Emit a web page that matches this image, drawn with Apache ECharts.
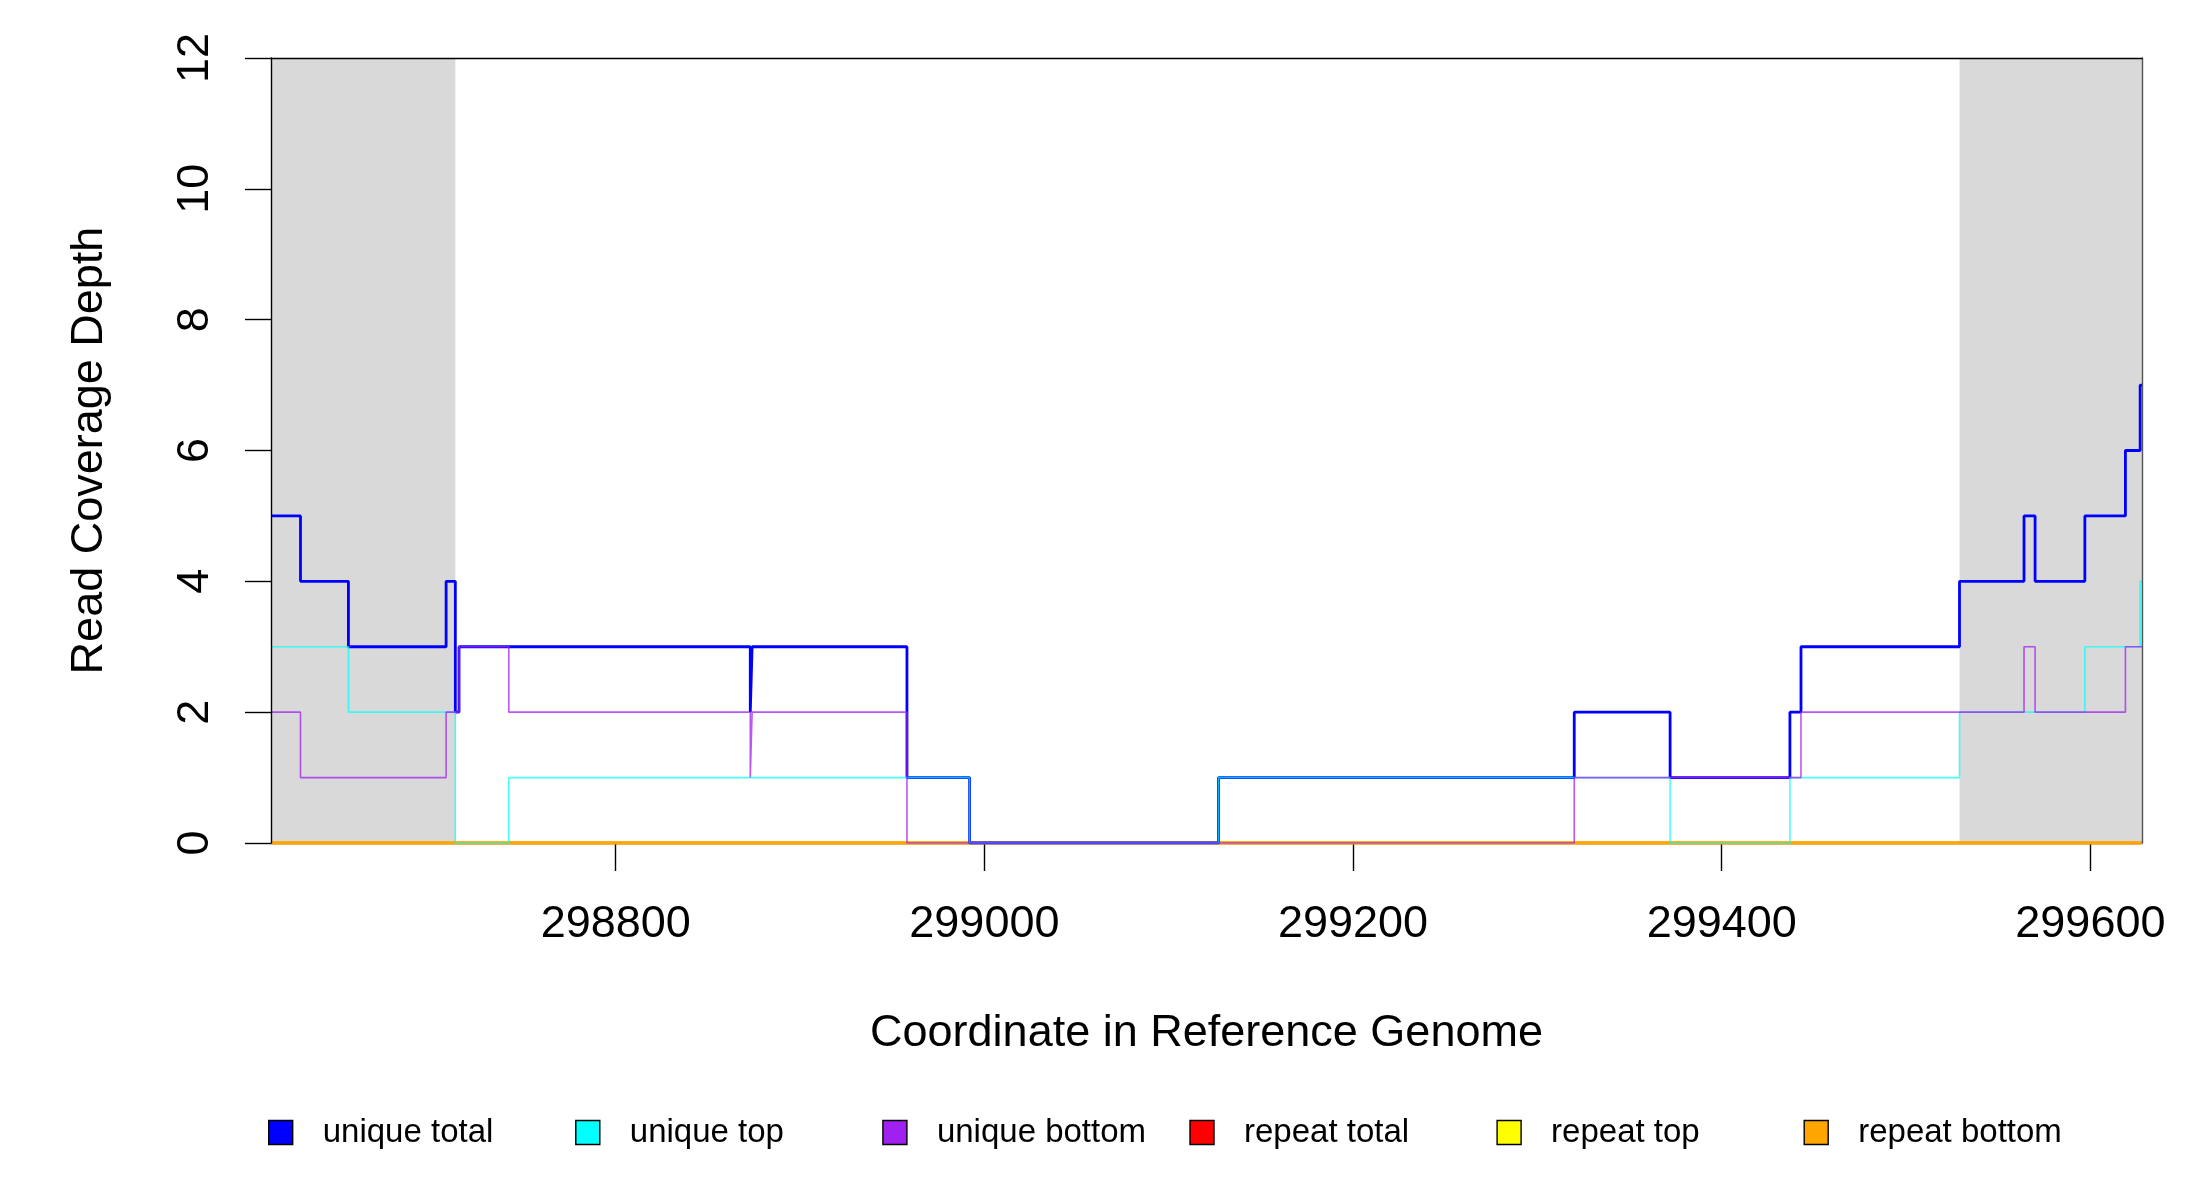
<!DOCTYPE html>
<html><head><meta charset="utf-8">
<script src="https://cdn.jsdelivr.net/npm/echarts@6/dist/echarts.min.js"></script>
<style>html,body{margin:0;padding:0;background:#fff}#c{width:2200px;height:1200px}</style>
</head><body><div id="c"></div>
<script>
// breakpoints (start of each constant-coverage segment), last point = end of region
const positions    = [298613,298629,298655,298708,298713,298715,298742,298873,298874,298958,298992,299127,299320,299372,299437,299443,299529,299564,299570,299597,299619,299627,299628];
const uniqueTotal  = [5,4,3,4,2,3,3,2,3,1,0,1,2,1,2,3,4,5,4,5,6,7,7];
const uniqueTop    = [3,3,2,2,0,0,1,1,1,1,0,1,1,0,1,1,2,2,2,3,3,4,4];
const uniqueBottom = [2,1,1,2,2,3,2,1,2,0,0,0,1,1,1,2,2,3,2,2,3,3,3];
const repeatPositions = [298613, 299628];
const repeatTotal  = [0, 0];
const repeatTop    = [0, 0];
const repeatBottom = [0, 0];
const xTicks = [298800, 299000, 299200, 299400, 299600];
const yTicks = [0, 2, 4, 6, 8, 10, 12];
const flankRegions = [[298613, 298713], [299529, 299628]];
const seriesNames = ['unique total','unique top','unique bottom','repeat total','repeat top','repeat bottom'];
const xMin = 298613, xMax = 299628, yMin = 0, yMax = 12;

const FONT = 'Liberation Sans';
function pairs(xs, ys){ return xs.map((x,i)=>[x, ys[i]]); }
function stepSeries(name, xs, ys, color, width, opacity, z){
  return {
    name, type:'line', step:'end', showSymbol:false, symbol:'none', z,
    data: pairs(xs, ys), color,
    itemStyle:{color},
    lineStyle:{color, width, opacity},
    emphasis:{disabled:true}, silent:true, animation:false
  };
}

const chart = echarts.init(document.getElementById('c'), null, {renderer:'canvas'});
chart.setOption({
  animation:false,
  backgroundColor:'#fff',
  grid:{left:271, right:58, top:58, bottom:357, containLabel:false},
  xAxis:[{
    type:'value', min:xMin, max:xMax, position:'bottom', z:0,
    name:'Coordinate in Reference Genome', nameLocation:'middle', nameGap:168,
    nameTextStyle:{fontFamily:FONT, fontSize:45, color:'#000', lineHeight:45},
    axisLine:{show:true, onZero:false, lineStyle:{color:'#666', width:1.4}},
    axisTick:{show:true, customValues:xTicks, length:28, lineStyle:{color:'#000', width:1.4}},
    axisLabel:{show:true, customValues:xTicks, margin:59, fontFamily:FONT, fontSize:45, color:'#000', lineHeight:45,
      formatter:v=>String(v)},
    splitLine:{show:false}
  },{
    type:'value', min:xMin, max:xMax, position:'top', z:10,
    axisLine:{show:true, onZero:false, lineStyle:{color:'#000', width:1.4}},
    axisTick:{show:false}, axisLabel:{show:false}, splitLine:{show:false}
  }],
  yAxis:[{
    type:'value', min:yMin, max:yMax, interval:2, position:'left', z:10,
    name:'Read Coverage Depth', nameLocation:'middle', nameGap:159, nameRotate:90,
    nameTextStyle:{fontFamily:FONT, fontSize:45, color:'#000', lineHeight:45},
    axisLine:{show:true, onZero:false, lineStyle:{color:'#000', width:1.4}},
    axisTick:{show:true, customValues:yTicks, length:26, lineStyle:{color:'#000', width:1.4}},
    axisLabel:{show:true, customValues:yTicks, rotate:90, margin:53, fontFamily:FONT, fontSize:45, color:'#000', lineHeight:45},
    splitLine:{show:false}
  },{
    type:'value', min:yMin, max:yMax, position:'right', z:10,
    axisLine:{show:true, onZero:false, lineStyle:{color:'#555', width:1.4}},
    axisTick:{show:false}, axisLabel:{show:false}, splitLine:{show:false}
  }],
  legend:{
    data: seriesNames,
    left:268, top:1116, orient:'horizontal', padding:0,
    itemWidth:24, itemHeight:24, itemGap:0, icon:'rect',
    itemStyle:{borderColor:'#000', borderWidth:1.4},
    textStyle:{fontFamily:FONT, fontSize:33, color:'#000', lineHeight:24,
      width:252.4, overflow:'truncate', padding:[0,0,0,25]},
    selectedMode:false
  },
  series:[
    {
      name:'flank', type:'line', data:[], z:1, silent:true,
      markArea:{silent:true, itemStyle:{color:'#D9D9D9', opacity:1}, label:{show:false},
        data: flankRegions.map(r=>[{xAxis:r[0], yAxis:yMin},{xAxis:r[1], yAxis:yMax}])}
    },
    stepSeries(seriesNames[0], positions, uniqueTotal, '#0000FF', 2.8, 1, 3),
    stepSeries(seriesNames[1], positions, uniqueTop, '#00FFFF', 1.6, 0.7, 3),
    stepSeries(seriesNames[2], positions, uniqueBottom, '#A020F0', 1.6, 0.75, 3),
    stepSeries(seriesNames[3], repeatPositions, repeatTotal, '#FF0000', 2.8, 1, 2),
    stepSeries(seriesNames[4], repeatPositions, repeatTop, '#FFFF00', 2.8, 1, 2),
    stepSeries(seriesNames[5], repeatPositions, repeatBottom, '#FFA500', 2.8, 1, 2)
  ]
});
</script></body></html>
